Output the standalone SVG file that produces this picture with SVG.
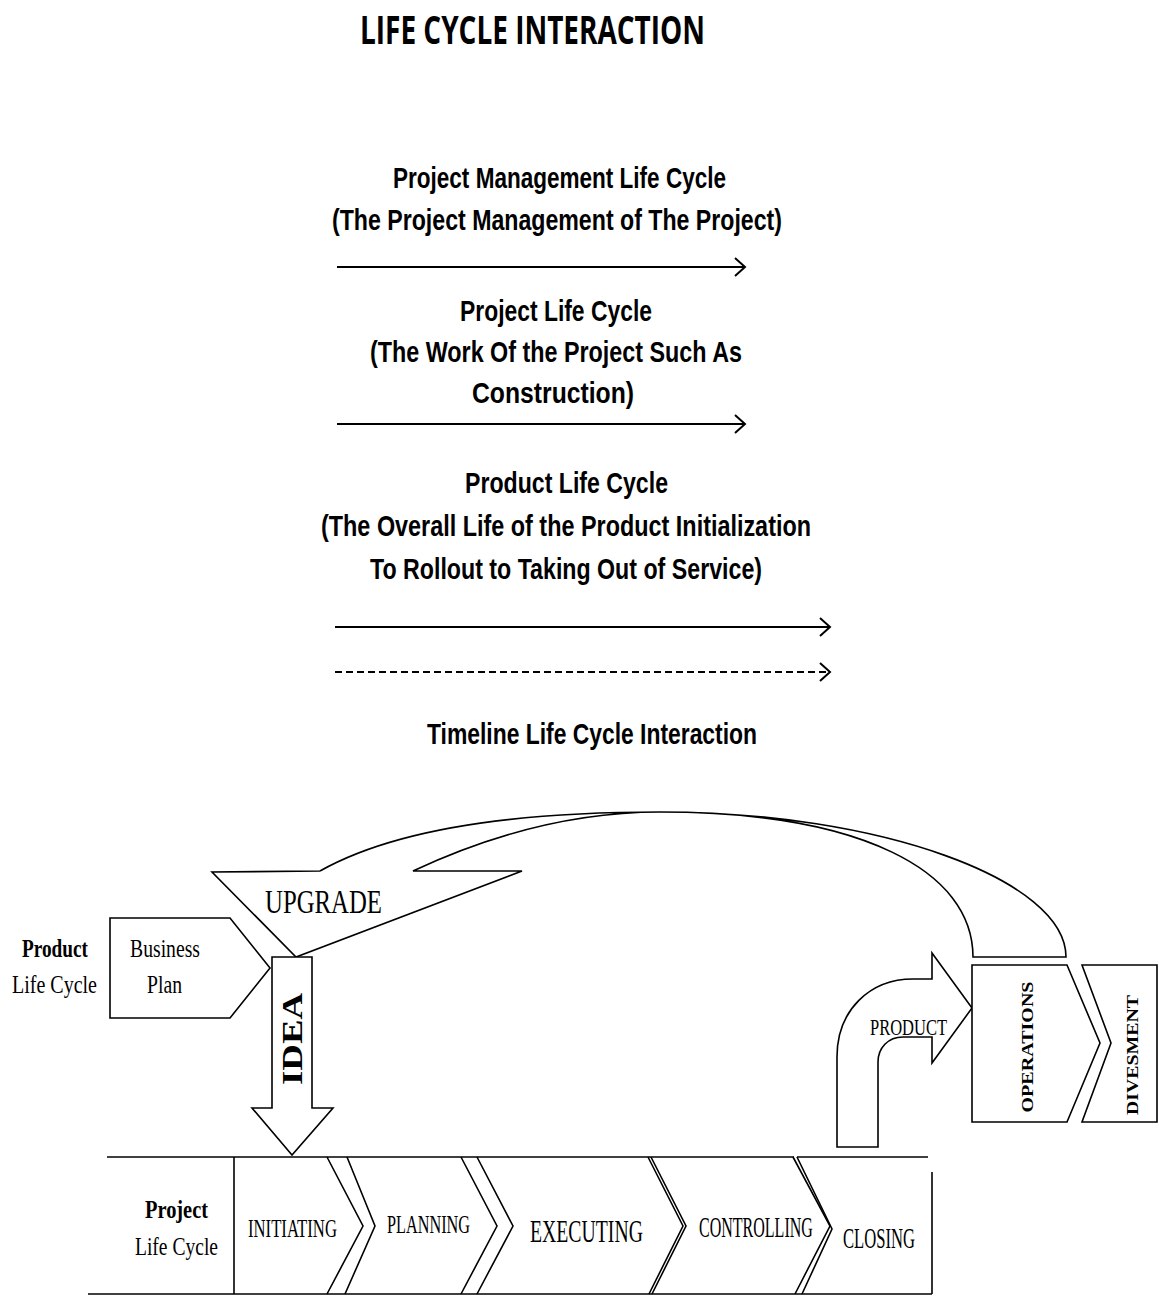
<svg xmlns="http://www.w3.org/2000/svg" width="1159" height="1296" viewBox="0 0 1159 1296">
<style>
.hd{font-family:"Liberation Sans",Arial,sans-serif;font-weight:bold;font-size:30px;fill:#000}
.tm{font-family:"Liberation Serif","Times New Roman",serif;fill:#000}
.b{font-weight:bold}
.ln{fill:none;stroke:#000;stroke-width:2}
.sh{fill:#fff;stroke:#000;stroke-width:1.6;stroke-linejoin:miter}
.st{fill:none;stroke:#000;stroke-width:1.6}
</style>
<defs>
<marker id="open" markerWidth="14" markerHeight="20" refX="12" refY="10" orient="auto" markerUnits="userSpaceOnUse">
<path d="M2,1 L12,10 L2,19" fill="none" stroke="#000" stroke-width="2"/>
</marker>
</defs>
<rect width="1159" height="1296" fill="#fff"/>

<g id="title">
<text x="360" y="44" font-family="'Open Sans',sans-serif" font-weight="bold" font-size="40" textLength="345" lengthAdjust="spacingAndGlyphs">LIFE CYCLE INTERACTION</text>
</g>

<g id="legend-pm">
<text class="hd" x="393" y="188" textLength="333" lengthAdjust="spacingAndGlyphs">Project Management Life Cycle</text>
<text class="hd" x="332" y="230" textLength="450" lengthAdjust="spacingAndGlyphs">(The Project Management of The Project)</text>
</g>
<g id="legend-project">
<text class="hd" x="460" y="321" textLength="192" lengthAdjust="spacingAndGlyphs">Project Life Cycle</text>
<text class="hd" x="370" y="362" textLength="372" lengthAdjust="spacingAndGlyphs">(The Work Of the Project Such As</text>
<text class="hd" x="472" y="403" textLength="162" lengthAdjust="spacingAndGlyphs">Construction)</text>
</g>
<g id="legend-product">
<text class="hd" x="465" y="493" textLength="203" lengthAdjust="spacingAndGlyphs">Product Life Cycle</text>
<text class="hd" x="321" y="536" textLength="490" lengthAdjust="spacingAndGlyphs">(The Overall Life of the Product Initialization</text>
<text class="hd" x="370" y="579" textLength="392" lengthAdjust="spacingAndGlyphs">To Rollout to Taking Out of Service)</text>
</g>
<g id="legend-timeline">
<text class="hd" x="427" y="744" textLength="330" lengthAdjust="spacingAndGlyphs">Timeline Life Cycle Interaction</text>
</g>

<g id="connectors">
<line class="ln" x1="337" y1="267" x2="745" y2="267" marker-end="url(#open)"/>
<line class="ln" x1="337" y1="424" x2="745" y2="424" marker-end="url(#open)"/>
<line class="ln" x1="335" y1="627" x2="830" y2="627" marker-end="url(#open)"/>
<line class="ln" x1="335" y1="672" x2="830" y2="672" stroke-dasharray="7,4" marker-end="url(#open)"/>
</g>

<g id="product-label">
<text class="tm b" x="22" y="957" font-size="26" textLength="66" lengthAdjust="spacingAndGlyphs">Product</text>
<text class="tm" x="12" y="993" font-size="26" textLength="85" lengthAdjust="spacingAndGlyphs">Life Cycle</text>
</g>

<g id="business-plan">
<polygon class="sh" points="110,918 230,918 270,968 230,1018 110,1018"/>
<text class="tm" x="130" y="957" font-size="26" textLength="70" lengthAdjust="spacingAndGlyphs">Business</text>
<text class="tm" x="147" y="993" font-size="26" textLength="35" lengthAdjust="spacingAndGlyphs">Plan</text>
</g>

<g id="upgrade">
<path class="st" d="M320,871 C400,826 530,812 660,812 C860,812 973,870 973,957 L1066,957 C1066,880 880,812 660,812 C575,812 490,835 413,871 L522,871 L296,957 L212,872 L320,871"/>
<text class="tm" x="265" y="913" font-size="34" textLength="117" lengthAdjust="spacingAndGlyphs">UPGRADE</text>
</g>

<g id="idea">
<polygon class="sh" points="272,957 312,957 312,1108 333,1108 292,1155 252,1108 272,1108"/>
<text class="tm b" transform="translate(302,1039) rotate(-90)" x="-46" y="0" font-size="29" textLength="92" lengthAdjust="spacingAndGlyphs">IDEA</text>
</g>

<g id="product-arrow">
<path class="sh" d="M837,1147 L837,1057 C837,1010 870,979 913,979 L932,979 L932,953 L972,1008 L932,1063 L932,1037 L903,1037 C888,1037 878,1048 878,1062 L878,1147 Z"/>
<text class="tm" x="870" y="1035" font-size="24" textLength="77" lengthAdjust="spacingAndGlyphs">PRODUCT</text>
</g>

<g id="operations">
<polygon class="sh" points="972,965 1067,965 1100,1043 1067,1122 972,1122"/>
<text class="tm b" transform="translate(1033,1047) rotate(-90)" font-size="17" text-anchor="middle" textLength="131" lengthAdjust="spacingAndGlyphs">OPERATIONS</text>
</g>

<g id="divesment">
<polygon class="sh" points="1082,965 1157,965 1157,1122 1082,1122 1111,1043"/>
<text class="tm b" transform="translate(1138,1055) rotate(-90)" font-size="17" text-anchor="middle" textLength="120" lengthAdjust="spacingAndGlyphs">DIVESMENT</text>
</g>

<g id="project-label">
<text class="tm b" x="145" y="1218" font-size="26" textLength="63" lengthAdjust="spacingAndGlyphs">Project</text>
<text class="tm" x="135" y="1255" font-size="26" textLength="83" lengthAdjust="spacingAndGlyphs">Life Cycle</text>
</g>

<g id="project-bar">
<line class="st" x1="107" y1="1157" x2="794" y2="1157"/>
<line class="st" x1="797" y1="1157" x2="928" y2="1157"/>
<line class="st" x1="88" y1="1294" x2="932" y2="1294"/>
<line class="st" x1="234" y1="1157" x2="234" y2="1294"/>
<line class="st" x1="932" y1="1172" x2="932" y2="1294"/>
</g>

<g id="initiating">
<polyline class="st" points="327,1157 363,1226 327,1294"/>
<text class="tm" transform="translate(248,1237) scale(0.654,1)" font-size="25" textLength="136" lengthAdjust="spacingAndGlyphs">INITIATING</text>
</g>
<g id="planning">
<polyline class="st" points="347,1157 375,1226 345,1294"/>
<polyline class="st" points="461,1157 497,1226 461,1294"/>
<text class="tm" transform="translate(387,1233) scale(0.65,1)" font-size="25" textLength="127.7" lengthAdjust="spacingAndGlyphs">PLANNING</text>
</g>
<g id="executing">
<polyline class="st" points="477,1157 513,1226 477,1294"/>
<polyline class="st" points="648,1157 683,1226 649,1294"/>
<text class="tm" transform="translate(530,1242) scale(0.617,1)" font-size="32" textLength="183" lengthAdjust="spacingAndGlyphs">EXECUTING</text>
</g>
<g id="controlling">
<polyline class="st" points="651,1157 686,1226 652,1294"/>
<polyline class="st" points="793,1157 830,1226 795,1294"/>
<text class="tm" transform="translate(699,1237) scale(0.55,1)" font-size="29" textLength="207" lengthAdjust="spacingAndGlyphs">CONTROLLING</text>
</g>
<g id="closing">
<polyline class="st" points="797,1157 832,1229 802,1294"/>
<text class="tm" transform="translate(843,1248) scale(0.573,1)" font-size="29" textLength="125.6" lengthAdjust="spacingAndGlyphs">CLOSING</text>
</g>
</svg>
